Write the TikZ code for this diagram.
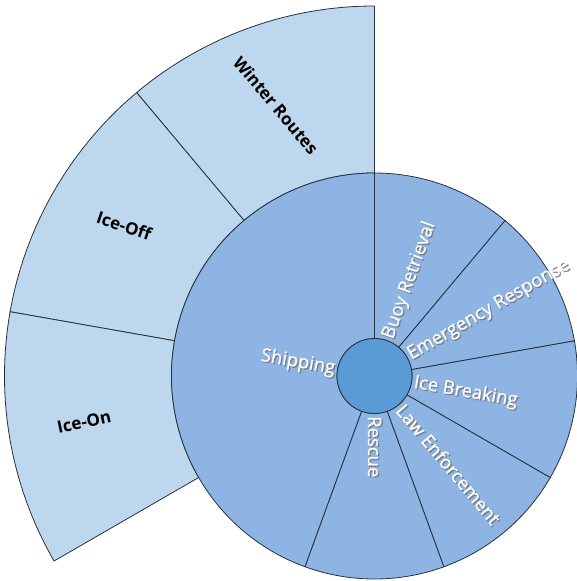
\documentclass[tikz,border=0pt]{standalone}
\usepackage{fontspec}
\setmainfont{Open Sans}
\newfontfamily\midfont{Open Sans}[FakeBold=0.6]
\usetikzlibrary{positioning}
\definecolor{outerblue}{HTML}{BDD7EE}
\definecolor{midblue}{HTML}{8EB4E3}
\definecolor{coreblue}{HTML}{5B9BD5}
\definecolor{edgegray}{HTML}{27313D}

% annular sector: fill, start angle, end angle, inner radius, outer radius
\newcommand{\ringpart}[5]{%
  \draw[part, fill=#1] (#2:#4) arc[start angle=#2, end angle=#3, radius=#4]
    -- (#3:#5) arc[start angle=#3, end angle=#2, radius=#5] -- cycle;}

% white label with a soft drop shadow: name, position, anchor, angle, text
\newcommand{\midlabel}[5]{%
  \node[midtext, text=black!55, opacity=0.75, xshift=1.3pt, yshift=-1.3pt,
        anchor=#3, rotate=#4] (#1-s) at (#2) {#5};
  \node[midtext, anchor=#3, rotate=#4] (#1) at (#2) {#5};}

\begin{document}
\begin{tikzpicture}[
    part/.style={draw=edgegray, line width=0.8pt, line join=round},
    midtext/.style={text=white, inner sep=3pt, font=\fontsize{18.5}{20}\selectfont\midfont},
    outtext/.style={text=black, inner sep=0pt, font=\fontsize{17}{20}\selectfont\bfseries}
]
\useasboundingbox (-374.5pt,-205pt) rectangle (202.5pt,376pt);

% outer ring (children of Shipping)
\ringpart{outerblue}{90}{130}{203pt}{370pt}
\ringpart{outerblue}{130}{170}{203pt}{370pt}
\ringpart{outerblue}{170}{210}{203pt}{370pt}

% middle ring
\ringpart{midblue}{90}{250}{37.5pt}{203pt}
\foreach \a in {250,290,330,370,410}
  \ringpart{midblue}{\a}{\a+40}{37.5pt}{203pt};

% core
\draw[part, fill=coreblue] (0,0) circle[radius=37.5pt];

% outer labels
\node[outtext, rotate=-50] (winter) at (110:288pt) {Winter Routes};
\node[outtext, rotate=-19] (iceoff) at (149:292pt) {Ice-Off};
\node[outtext, rotate=12] (iceon) at (189:294pt) {Ice-On};

% middle labels
\midlabel{buoy}{70:37pt}{west}{70}{Buoy Retrieval}
\midlabel{emerg}{30:37pt}{west}{30}{Emergency Response}
\midlabel{icebreak}{-10:37pt}{west}{-10}{Ice Breaking}
\midlabel{law}{-50:37pt}{west}{-50}{Law Enforcement}
\midlabel{rescue}{-90:37pt}{west}{-90}{Rescue}
\midlabel{shipping}{170:37pt}{east}{-10}{Shipping}
\end{tikzpicture}
\end{document}
